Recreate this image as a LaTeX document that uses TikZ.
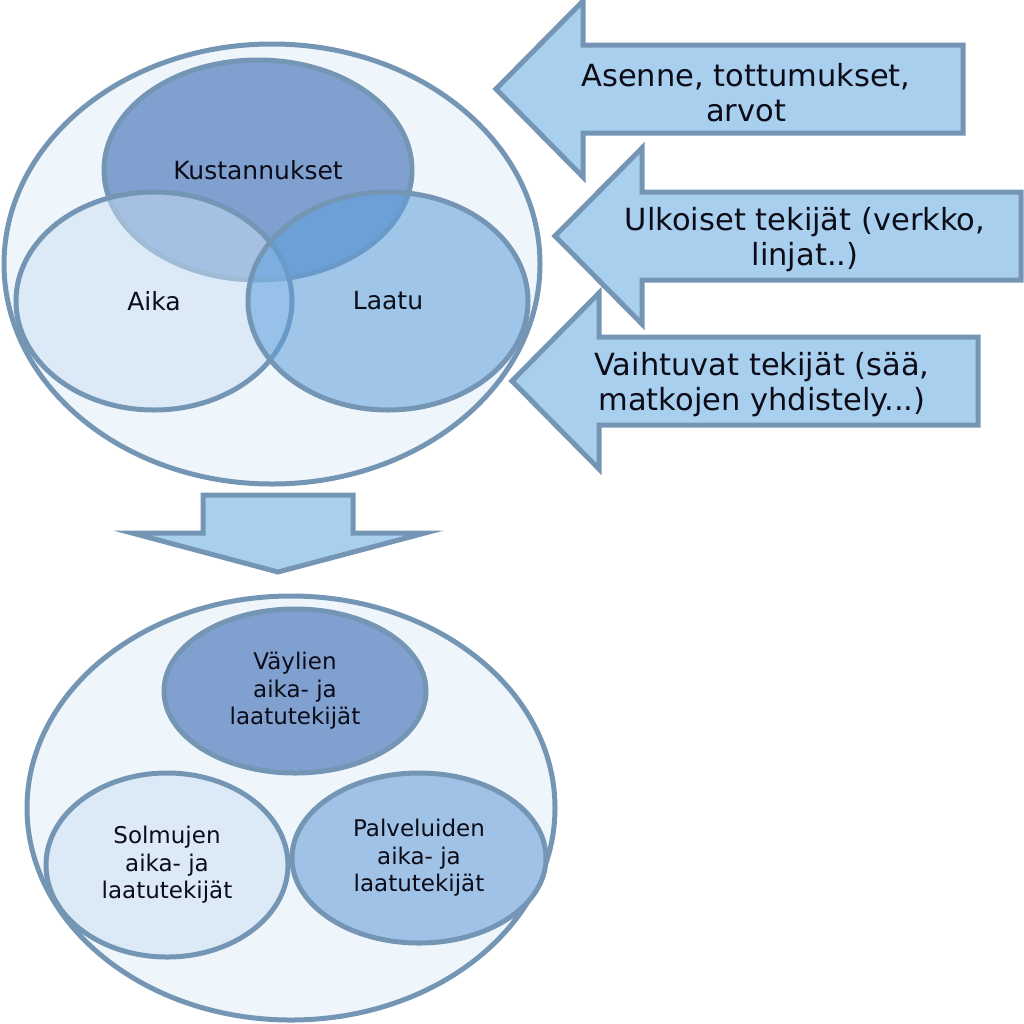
\documentclass[tikz,border=0pt]{standalone}
\usepackage{fontspec}
\setmainfont{DejaVu Sans}
\usetikzlibrary{shapes.geometric, calc}
\definecolor{rimblue}{HTML}{7496B4}
\definecolor{paleblue}{HTML}{EEF5FB}
\definecolor{costblue}{HTML}{80A0D0}
\definecolor{timeblue}{HTML}{CBE0F6}
\definecolor{qualblue}{HTML}{5FA0DC}
\definecolor{solmublue}{HTML}{DCEAF8}
\definecolor{palveblue}{HTML}{9FC2E6}
\definecolor{arrowfill}{HTML}{A8CFEE}
\definecolor{inktext}{HTML}{0C0C18}
\tikzset{
  set/.style={ellipse, draw=rimblue, line width=5pt, inner sep=0pt,
              text=inktext, align=center, font=\fontsize{23}{27.5}\selectfont},
  venn/.style={set, font=\fontsize{25}{30}\selectfont},
  blockarrow/.style={draw=rimblue, line width=5pt, fill=arrowfill, line join=miter},
  arrowtext/.style={font=\fontsize{30.5}{35}\selectfont, align=center, text=inktext},
}

\begin{document}
\begin{tikzpicture}[x=1pt, y=-1pt]
  \useasboundingbox (0,0) rectangle (1024,1023);
  % upper set: costs, time, quality
  \node[set, fill=paleblue, minimum width=536, minimum height=440] (top) at (272,264) {};
  \node[venn, fill=costblue, minimum width=308, minimum height=220] (kust) at (258,170) {Kustannukset};
  \node[venn, fill=timeblue, fill opacity=0.5, text opacity=1,
        minimum width=276, minimum height=218] (aika) at (154,301) {Aika};
  \node[venn, fill=qualblue, fill opacity=0.55, text opacity=1,
        minimum width=280, minimum height=218] (laatu) at (388,301) {Laatu};

  % incoming factors
  \foreach \name/\tx/\ty/\rx/\txt in {
      att/496/89/963/{Asenne, tottumukset,\\arvot},
      ext/555/236/1021/{Ulkoiset tekijät (verkko,\\linjat..)},
      var/512/381/978/{Vaihtuvat tekijät (sää,\\matkojen yhdistely...)}}{
    \draw[blockarrow] (\tx,\ty) -- ++(87,-88) -- ++(0,44) -- (\rx,\ty-44)
      -- (\rx,\ty+44) -- (\tx+87,\ty+44) -- ++(0,44) -- cycle;
    \node[arrowtext] (\name) at (\tx+250,\ty+4) {\txt};
  }

  % down arrow
  \coordinate (down) at (278,572);
  \draw[blockarrow] (down) -- ++(-146,-39) -- ++(71,0) -- ++(0,-38) -- ++(150,0)
    -- ++(0,38) -- ++(72,0) -- cycle;

  % lower set: factors by part
  \node[set, fill=paleblue, minimum width=528, minimum height=424] (bottom) at (291,808) {};
  \node[set, fill=costblue, minimum width=262, minimum height=164] (vay) at (295,691)
    {Väylien\\aika- ja\\laatutekijät};
  \node[set, fill=solmublue, minimum width=242, minimum height=184] (solm) at (167,865)
    {Solmujen\\aika- ja\\laatutekijät};
  \node[set, fill=palveblue, minimum width=254, minimum height=170] (palv) at (419,858)
    {Palveluiden\\aika- ja\\laatutekijät};
\end{tikzpicture}
\end{document}
